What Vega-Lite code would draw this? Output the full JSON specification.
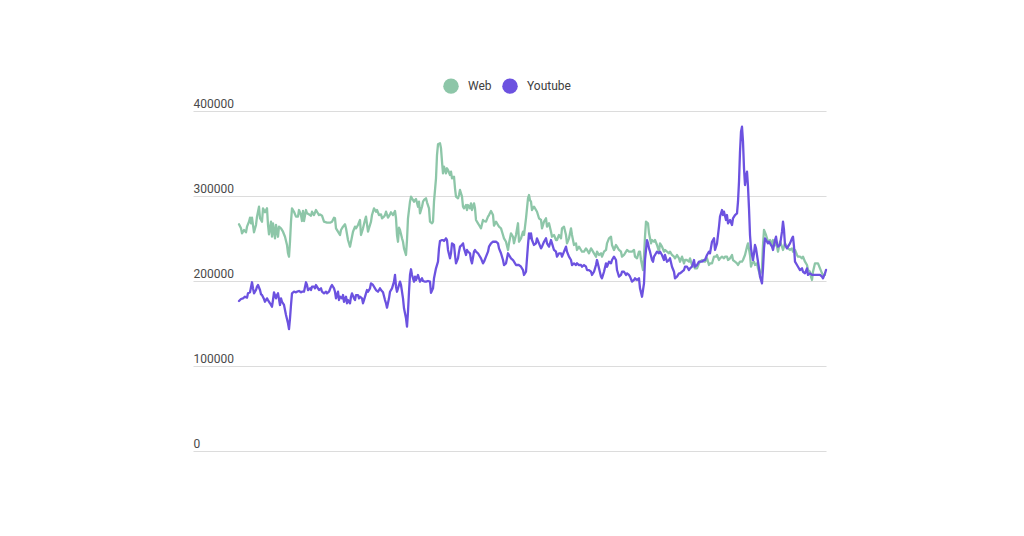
{
"$schema": "https://vega.github.io/schema/vega-lite/v6.json",
"width": 633, "height": 340,
"autosize": {"type": "none"},
"padding": {"left": 193, "top": 111, "right": 198, "bottom": 85},
"background": "white",
"config": {"view": {"stroke": null}, "font": "Roboto"},
"data": {"values": [
{"t":1,"s":"Web","v":266700},{"t":3,"s":"Web","v":262000},{"t":4,"s":"Web","v":256100},{"t":6,"s":"Web","v":260000},{"t":8,"s":"Web","v":257300},{"t":9,"s":"Web","v":263900},{"t":11,"s":"Web","v":269800},{"t":12,"s":"Web","v":274500},{"t":13,"s":"Web","v":267900},{"t":14,"s":"Web","v":274500},{"t":16,"s":"Web","v":257300},{"t":18,"s":"Web","v":265900},{"t":19,"s":"Web","v":275700},{"t":21,"s":"Web","v":287400},{"t":22,"s":"Web","v":273800},{"t":24,"s":"Web","v":269800},{"t":25,"s":"Web","v":285500},{"t":27,"s":"Web","v":280800},{"t":29,"s":"Web","v":285500},{"t":30,"s":"Web","v":265900},{"t":31,"s":"Web","v":254900},{"t":33,"s":"Web","v":269800},{"t":34,"s":"Web","v":252100},{"t":35,"s":"Web","v":267900},{"t":37,"s":"Web","v":250200},{"t":38,"s":"Web","v":265900},{"t":40,"s":"Web","v":252100},{"t":41,"s":"Web","v":263900},{"t":43,"s":"Web","v":262000},{"t":45,"s":"Web","v":258000},{"t":47,"s":"Web","v":252100},{"t":49,"s":"Web","v":242400},{"t":50,"s":"Web","v":232600},{"t":51,"s":"Web","v":228600},{"t":52,"s":"Web","v":246200},{"t":53,"s":"Web","v":269800},{"t":54,"s":"Web","v":285500},{"t":56,"s":"Web","v":281500},{"t":58,"s":"Web","v":275700},{"t":60,"s":"Web","v":275700},{"t":61,"s":"Web","v":283500},{"t":63,"s":"Web","v":277600},{"t":64,"s":"Web","v":270600},{"t":65,"s":"Web","v":282400},{"t":66,"s":"Web","v":270600},{"t":68,"s":"Web","v":283500},{"t":69,"s":"Web","v":279600},{"t":71,"s":"Web","v":278400},{"t":73,"s":"Web","v":276800},{"t":74,"s":"Web","v":281500},{"t":76,"s":"Web","v":277600},{"t":78,"s":"Web","v":283500},{"t":79,"s":"Web","v":281500},{"t":81,"s":"Web","v":277600},{"t":82,"s":"Web","v":278400},{"t":84,"s":"Web","v":276800},{"t":86,"s":"Web","v":269800},{"t":89,"s":"Web","v":268600},{"t":92,"s":"Web","v":268600},{"t":94,"s":"Web","v":269800},{"t":96,"s":"Web","v":274500},
{"t":97,"s":"Web","v":273800},{"t":98,"s":"Web","v":262000},{"t":100,"s":"Web","v":258000},{"t":102,"s":"Web","v":254100},{"t":103,"s":"Web","v":260000},{"t":105,"s":"Web","v":263900},{"t":107,"s":"Web","v":266700},{"t":108,"s":"Web","v":262000},{"t":110,"s":"Web","v":248200},{"t":112,"s":"Web","v":240400},{"t":113,"s":"Web","v":246200},{"t":115,"s":"Web","v":258000},{"t":117,"s":"Web","v":263900},{"t":118,"s":"Web","v":262000},{"t":120,"s":"Web","v":265900},{"t":122,"s":"Web","v":271800},{"t":123,"s":"Web","v":254100},{"t":125,"s":"Web","v":262000},{"t":127,"s":"Web","v":271800},{"t":128,"s":"Web","v":275700},{"t":130,"s":"Web","v":258000},{"t":131,"s":"Web","v":262000},{"t":133,"s":"Web","v":269800},{"t":134,"s":"Web","v":277600},{"t":136,"s":"Web","v":285500},{"t":138,"s":"Web","v":281500},{"t":139,"s":"Web","v":283500},{"t":141,"s":"Web","v":277600},{"t":143,"s":"Web","v":278400},{"t":144,"s":"Web","v":273800},{"t":146,"s":"Web","v":275700},{"t":147,"s":"Web","v":277600},{"t":148,"s":"Web","v":281500},{"t":150,"s":"Web","v":274500},{"t":152,"s":"Web","v":278400},{"t":153,"s":"Web","v":280800},{"t":155,"s":"Web","v":277600},{"t":157,"s":"Web","v":282400},{"t":158,"s":"Web","v":273800},{"t":159,"s":"Web","v":254100},{"t":160,"s":"Web","v":246200},{"t":161,"s":"Web","v":262700},{"t":162,"s":"Web","v":260000},{"t":164,"s":"Web","v":250200},{"t":165,"s":"Web","v":246200},{"t":166,"s":"Web","v":238400},{"t":168,"s":"Web","v":230600},{"t":169,"s":"Web","v":248200},{"t":170,"s":"Web","v":273800},{"t":172,"s":"Web","v":293300},{"t":173,"s":"Web","v":299200},{"t":174,"s":"Web","v":297300},{"t":176,"s":"Web","v":293300},{"t":177,"s":"Web","v":295300},{"t":178,"s":"Web","v":296500},{"t":180,"s":"Web","v":287400},{"t":181,"s":"Web","v":293300},{"t":182,"s":"Web","v":279600},{"t":184,"s":"Web","v":287400},{"t":185,"s":"Web","v":293300},{"t":186,"s":"Web","v":295300},{"t":188,"s":"Web","v":297300},{"t":189,"s":"Web","v":292600},{"t":191,"s":"Web","v":285500},{"t":192,"s":"Web","v":269800},{"t":194,"s":"Web","v":267900},
{"t":195,"s":"Web","v":269800},{"t":196,"s":"Web","v":293300},{"t":198,"s":"Web","v":320800},{"t":199,"s":"Web","v":348200},{"t":200,"s":"Web","v":360800},{"t":202,"s":"Web","v":362000},{"t":203,"s":"Web","v":356100},{"t":204,"s":"Web","v":340400},{"t":205,"s":"Web","v":326700},{"t":206,"s":"Web","v":334500},{"t":208,"s":"Web","v":326700},{"t":209,"s":"Web","v":332600},{"t":210,"s":"Web","v":330600},{"t":212,"s":"Web","v":324700},{"t":213,"s":"Web","v":328600},{"t":214,"s":"Web","v":320800},{"t":216,"s":"Web","v":322700},{"t":217,"s":"Web","v":309100},{"t":218,"s":"Web","v":299200},{"t":220,"s":"Web","v":297300},{"t":221,"s":"Web","v":301200},{"t":222,"s":"Web","v":307100},{"t":224,"s":"Web","v":299200},{"t":225,"s":"Web","v":287400},{"t":226,"s":"Web","v":285500},{"t":228,"s":"Web","v":289400},{"t":229,"s":"Web","v":283500},{"t":230,"s":"Web","v":289400},{"t":232,"s":"Web","v":285500},{"t":233,"s":"Web","v":291400},{"t":234,"s":"Web","v":283500},{"t":236,"s":"Web","v":291400},{"t":237,"s":"Web","v":285500},{"t":238,"s":"Web","v":271800},{"t":240,"s":"Web","v":267900},{"t":241,"s":"Web","v":265900},{"t":243,"s":"Web","v":262000},{"t":245,"s":"Web","v":271800},{"t":246,"s":"Web","v":270600},{"t":248,"s":"Web","v":269800},{"t":250,"s":"Web","v":275700},{"t":251,"s":"Web","v":277600},{"t":253,"s":"Web","v":282400},{"t":255,"s":"Web","v":277600},{"t":256,"s":"Web","v":265100},{"t":258,"s":"Web","v":269800},{"t":260,"s":"Web","v":265900},{"t":261,"s":"Web","v":263900},{"t":263,"s":"Web","v":262000},{"t":265,"s":"Web","v":254100},{"t":266,"s":"Web","v":250200},{"t":268,"s":"Web","v":246200},{"t":270,"s":"Web","v":236500},{"t":271,"s":"Web","v":244300},{"t":273,"s":"Web","v":256100},{"t":275,"s":"Web","v":252100},{"t":276,"s":"Web","v":244300},{"t":278,"s":"Web","v":254100},{"t":280,"s":"Web","v":267900},{"t":281,"s":"Web","v":246200},{"t":283,"s":"Web","v":250200},{"t":285,"s":"Web","v":258000},{"t":286,"s":"Web","v":254100},{"t":288,"s":"Web","v":273800},{"t":290,"s":"Web","v":297300},{"t":291,"s":"Web","v":301200},{"t":292,"s":"Web","v":295000},
{"t":293,"s":"Web","v":293300},{"t":294,"s":"Web","v":283500},{"t":296,"s":"Web","v":287400},{"t":298,"s":"Web","v":283500},{"t":299,"s":"Web","v":281500},{"t":301,"s":"Web","v":273800},{"t":303,"s":"Web","v":271800},{"t":304,"s":"Web","v":262000},{"t":306,"s":"Web","v":269800},{"t":308,"s":"Web","v":273800},{"t":309,"s":"Web","v":263900},{"t":311,"s":"Web","v":267900},{"t":313,"s":"Web","v":258000},{"t":314,"s":"Web","v":252100},{"t":316,"s":"Web","v":254100},{"t":318,"s":"Web","v":248200},{"t":319,"s":"Web","v":248200},{"t":321,"s":"Web","v":254100},{"t":323,"s":"Web","v":250200},{"t":324,"s":"Web","v":262000},{"t":326,"s":"Web","v":263900},{"t":328,"s":"Web","v":254100},{"t":329,"s":"Web","v":244300},{"t":331,"s":"Web","v":250200},{"t":333,"s":"Web","v":262000},{"t":334,"s":"Web","v":254100},{"t":336,"s":"Web","v":242400},{"t":338,"s":"Web","v":244300},{"t":339,"s":"Web","v":236500},{"t":341,"s":"Web","v":240400},{"t":343,"s":"Web","v":236500},{"t":344,"s":"Web","v":234500},{"t":346,"s":"Web","v":234500},{"t":348,"s":"Web","v":238400},{"t":349,"s":"Web","v":236500},{"t":351,"s":"Web","v":232600},{"t":353,"s":"Web","v":238400},{"t":354,"s":"Web","v":236500},{"t":356,"s":"Web","v":232600},{"t":358,"s":"Web","v":228600},{"t":359,"s":"Web","v":234500},{"t":361,"s":"Web","v":230600},{"t":363,"s":"Web","v":232600},{"t":364,"s":"Web","v":228600},{"t":366,"s":"Web","v":234500},{"t":368,"s":"Web","v":236500},{"t":369,"s":"Web","v":244300},{"t":371,"s":"Web","v":250200},{"t":373,"s":"Web","v":252100},{"t":374,"s":"Web","v":242400},{"t":376,"s":"Web","v":236500},{"t":378,"s":"Web","v":242400},{"t":379,"s":"Web","v":240400},{"t":381,"s":"Web","v":236500},{"t":383,"s":"Web","v":234500},{"t":384,"s":"Web","v":228600},{"t":386,"s":"Web","v":230600},{"t":388,"s":"Web","v":234500},{"t":389,"s":"Web","v":236500},
{"t":391,"s":"Web","v":234500},{"t":392,"s":"Web","v":234500},{"t":394,"s":"Web","v":234500},{"t":396,"s":"Web","v":236500},{"t":397,"s":"Web","v":228600},{"t":399,"s":"Web","v":226700},{"t":401,"s":"Web","v":234500},{"t":402,"s":"Web","v":234500},{"t":403,"s":"Web","v":224700},{"t":405,"s":"Web","v":212900},{"t":406,"s":"Web","v":228600},{"t":407,"s":"Web","v":252100},{"t":408,"s":"Web","v":269800},{"t":410,"s":"Web","v":267900},{"t":411,"s":"Web","v":256100},{"t":412,"s":"Web","v":250200},{"t":413,"s":"Web","v":244300},{"t":414,"s":"Web","v":248200},{"t":416,"s":"Web","v":246200},{"t":417,"s":"Web","v":248200},{"t":419,"s":"Web","v":242400},{"t":421,"s":"Web","v":234500},{"t":422,"s":"Web","v":244300},{"t":424,"s":"Web","v":240400},{"t":426,"s":"Web","v":234500},{"t":427,"s":"Web","v":236500},{"t":429,"s":"Web","v":234500},{"t":431,"s":"Web","v":232600},{"t":432,"s":"Web","v":234500},{"t":434,"s":"Web","v":230600},{"t":436,"s":"Web","v":228600},{"t":437,"s":"Web","v":226700},{"t":439,"s":"Web","v":230600},{"t":441,"s":"Web","v":226700},{"t":442,"s":"Web","v":222700},{"t":444,"s":"Web","v":228600},{"t":446,"s":"Web","v":220800},{"t":447,"s":"Web","v":224700},{"t":449,"s":"Web","v":224700},{"t":451,"s":"Web","v":222700},{"t":452,"s":"Web","v":226700},{"t":454,"s":"Web","v":218800},{"t":456,"s":"Web","v":216800},{"t":457,"s":"Web","v":214900},{"t":459,"s":"Web","v":214900},{"t":461,"s":"Web","v":220800},{"t":462,"s":"Web","v":222700},{"t":464,"s":"Web","v":224700},{"t":466,"s":"Web","v":222700},{"t":467,"s":"Web","v":222700},{"t":469,"s":"Web","v":226700},{"t":471,"s":"Web","v":218800},{"t":472,"s":"Web","v":220800},{"t":474,"s":"Web","v":220800},{"t":475,"s":"Web","v":224700},{"t":476,"s":"Web","v":228600},{"t":478,"s":"Web","v":228600},{"t":479,"s":"Web","v":230600},{"t":481,"s":"Web","v":224700},{"t":482,"s":"Web","v":226700},{"t":484,"s":"Web","v":228600},{"t":486,"s":"Web","v":226700},{"t":487,"s":"Web","v":228600},
{"t":489,"s":"Web","v":228600},{"t":490,"s":"Web","v":224700},{"t":492,"s":"Web","v":226700},{"t":494,"s":"Web","v":230600},{"t":495,"s":"Web","v":224700},{"t":497,"s":"Web","v":222700},{"t":499,"s":"Web","v":220800},{"t":500,"s":"Web","v":218800},{"t":502,"s":"Web","v":222700},{"t":504,"s":"Web","v":222700},{"t":505,"s":"Web","v":224700},{"t":507,"s":"Web","v":230600},{"t":509,"s":"Web","v":240400},{"t":510,"s":"Web","v":244300},{"t":512,"s":"Web","v":230600},{"t":513,"s":"Web","v":216800},{"t":514,"s":"Web","v":220800},{"t":516,"s":"Web","v":222700},{"t":517,"s":"Web","v":218800},{"t":519,"s":"Web","v":220800},{"t":520,"s":"Web","v":214900},{"t":522,"s":"Web","v":207100},{"t":524,"s":"Web","v":214900},{"t":525,"s":"Web","v":242400},{"t":526,"s":"Web","v":260000},{"t":528,"s":"Web","v":254100},{"t":529,"s":"Web","v":250200},{"t":530,"s":"Web","v":246200},{"t":532,"s":"Web","v":248200},{"t":534,"s":"Web","v":242400},{"t":535,"s":"Web","v":248200},{"t":537,"s":"Web","v":244300},{"t":539,"s":"Web","v":240400},{"t":540,"s":"Web","v":234500},{"t":542,"s":"Web","v":246200},{"t":544,"s":"Web","v":240400},{"t":545,"s":"Web","v":236500},{"t":547,"s":"Web","v":244300},{"t":549,"s":"Web","v":240400},{"t":550,"s":"Web","v":238400},{"t":552,"s":"Web","v":236500},{"t":554,"s":"Web","v":238400},{"t":555,"s":"Web","v":234500},{"t":557,"s":"Web","v":236500},{"t":559,"s":"Web","v":230600},{"t":560,"s":"Web","v":228600},{"t":562,"s":"Web","v":228600},{"t":564,"s":"Web","v":226700},{"t":565,"s":"Web","v":228600},{"t":567,"s":"Web","v":222700},{"t":569,"s":"Web","v":218800},{"t":570,"s":"Web","v":212900},{"t":572,"s":"Web","v":210900},{"t":573,"s":"Web","v":205100},{"t":574,"s":"Web","v":201200},{"t":575,"s":"Web","v":210900},{"t":577,"s":"Web","v":220800},{"t":579,"s":"Web","v":220800},{"t":580,"s":"Web","v":220800},{"t":582,"s":"Web","v":214900},{"t":584,"s":"Web","v":209000},{"t":585,"s":"Web","v":207100},{"t":587,"s":"Web","v":207100},
{"t":1,"s":"Youtube","v":176500},{"t":3,"s":"Youtube","v":178800},{"t":5,"s":"Youtube","v":179600},{"t":7,"s":"Youtube","v":181500},{"t":9,"s":"Youtube","v":180400},{"t":10,"s":"Youtube","v":185500},{"t":12,"s":"Youtube","v":186700},{"t":14,"s":"Youtube","v":198500},{"t":15,"s":"Youtube","v":191400},{"t":16,"s":"Youtube","v":185500},{"t":18,"s":"Youtube","v":189400},{"t":19,"s":"Youtube","v":193300},{"t":20,"s":"Youtube","v":195300},{"t":22,"s":"Youtube","v":189400},{"t":23,"s":"Youtube","v":184300},{"t":24,"s":"Youtube","v":183500},{"t":26,"s":"Youtube","v":178800},{"t":27,"s":"Youtube","v":175600},{"t":29,"s":"Youtube","v":179600},{"t":30,"s":"Youtube","v":177600},{"t":32,"s":"Youtube","v":173800},{"t":34,"s":"Youtube","v":169800},{"t":35,"s":"Youtube","v":177600},{"t":36,"s":"Youtube","v":186700},{"t":38,"s":"Youtube","v":179600},{"t":39,"s":"Youtube","v":183500},{"t":40,"s":"Youtube","v":185500},{"t":42,"s":"Youtube","v":171800},{"t":43,"s":"Youtube","v":179600},{"t":44,"s":"Youtube","v":175600},{"t":46,"s":"Youtube","v":171800},{"t":47,"s":"Youtube","v":165900},{"t":48,"s":"Youtube","v":160000},{"t":50,"s":"Youtube","v":150200},{"t":51,"s":"Youtube","v":143500},{"t":52,"s":"Youtube","v":156100},{"t":53,"s":"Youtube","v":171800},{"t":54,"s":"Youtube","v":185500},{"t":56,"s":"Youtube","v":187400},{"t":58,"s":"Youtube","v":186700},{"t":59,"s":"Youtube","v":187400},{"t":61,"s":"Youtube","v":188200},{"t":63,"s":"Youtube","v":186700},{"t":64,"s":"Youtube","v":187400},{"t":66,"s":"Youtube","v":187400},{"t":68,"s":"Youtube","v":198500},{"t":69,"s":"Youtube","v":195300},{"t":70,"s":"Youtube","v":189400},{"t":72,"s":"Youtube","v":191400},{"t":73,"s":"Youtube","v":189400},{"t":74,"s":"Youtube","v":193300},{"t":76,"s":"Youtube","v":193300},{"t":77,"s":"Youtube","v":191400},{"t":78,"s":"Youtube","v":195300},{"t":80,"s":"Youtube","v":191400},{"t":81,"s":"Youtube","v":189400},{"t":83,"s":"Youtube","v":191400},{"t":84,"s":"Youtube","v":187400},{"t":86,"s":"Youtube","v":185500},{"t":88,"s":"Youtube","v":187400},{"t":89,"s":"Youtube","v":185500},{"t":91,"s":"Youtube","v":187400},{"t":93,"s":"Youtube","v":193300},{"t":94,"s":"Youtube","v":195300},{"t":96,"s":"Youtube","v":191400},
{"t":97,"s":"Youtube","v":187400},{"t":98,"s":"Youtube","v":179600},{"t":100,"s":"Youtube","v":187400},{"t":101,"s":"Youtube","v":177600},{"t":102,"s":"Youtube","v":181500},{"t":104,"s":"Youtube","v":179600},{"t":105,"s":"Youtube","v":183500},{"t":106,"s":"Youtube","v":175600},{"t":108,"s":"Youtube","v":181500},{"t":109,"s":"Youtube","v":173800},{"t":110,"s":"Youtube","v":177600},{"t":112,"s":"Youtube","v":173800},{"t":113,"s":"Youtube","v":181500},{"t":114,"s":"Youtube","v":185500},{"t":116,"s":"Youtube","v":179600},{"t":117,"s":"Youtube","v":177600},{"t":118,"s":"Youtube","v":183500},{"t":120,"s":"Youtube","v":183500},{"t":121,"s":"Youtube","v":179600},{"t":122,"s":"Youtube","v":181500},{"t":124,"s":"Youtube","v":179600},{"t":125,"s":"Youtube","v":173800},{"t":126,"s":"Youtube","v":177600},{"t":128,"s":"Youtube","v":185500},{"t":129,"s":"Youtube","v":189400},{"t":130,"s":"Youtube","v":187400},{"t":132,"s":"Youtube","v":191400},{"t":133,"s":"Youtube","v":197300},{"t":135,"s":"Youtube","v":195300},{"t":137,"s":"Youtube","v":191400},{"t":138,"s":"Youtube","v":189400},{"t":140,"s":"Youtube","v":187400},{"t":142,"s":"Youtube","v":191400},{"t":143,"s":"Youtube","v":189400},{"t":145,"s":"Youtube","v":186700},{"t":147,"s":"Youtube","v":177600},{"t":148,"s":"Youtube","v":173800},{"t":149,"s":"Youtube","v":168600},{"t":151,"s":"Youtube","v":179600},{"t":152,"s":"Youtube","v":187400},{"t":154,"s":"Youtube","v":191400},{"t":156,"s":"Youtube","v":199200},{"t":157,"s":"Youtube","v":207100},{"t":158,"s":"Youtube","v":193300},{"t":159,"s":"Youtube","v":187400},{"t":160,"s":"Youtube","v":191400},{"t":162,"s":"Youtube","v":199200},{"t":163,"s":"Youtube","v":195300},{"t":165,"s":"Youtube","v":179600},{"t":166,"s":"Youtube","v":167900},{"t":168,"s":"Youtube","v":156100},{"t":169,"s":"Youtube","v":146300},{"t":170,"s":"Youtube","v":163900},{"t":171,"s":"Youtube","v":187400},{"t":172,"s":"Youtube","v":207100},{"t":173,"s":"Youtube","v":213800},{"t":174,"s":"Youtube","v":207100},{"t":176,"s":"Youtube","v":199200},{"t":177,"s":"Youtube","v":205100},{"t":178,"s":"Youtube","v":201200},{"t":180,"s":"Youtube","v":207100},{"t":181,"s":"Youtube","v":203200},{"t":182,"s":"Youtube","v":199200},{"t":184,"s":"Youtube","v":203200},{"t":185,"s":"Youtube","v":200000},{"t":187,"s":"Youtube","v":199200},{"t":188,"s":"Youtube","v":199200},{"t":190,"s":"Youtube","v":200000},{"t":192,"s":"Youtube","v":199200},{"t":193,"s":"Youtube","v":186000},
{"t":195,"s":"Youtube","v":191400},{"t":196,"s":"Youtube","v":203200},{"t":198,"s":"Youtube","v":214900},{"t":200,"s":"Youtube","v":222700},{"t":201,"s":"Youtube","v":238400},{"t":202,"s":"Youtube","v":247100},{"t":204,"s":"Youtube","v":248200},{"t":205,"s":"Youtube","v":248200},{"t":206,"s":"Youtube","v":247100},{"t":208,"s":"Youtube","v":250200},{"t":209,"s":"Youtube","v":248200},{"t":210,"s":"Youtube","v":236500},{"t":212,"s":"Youtube","v":226700},{"t":213,"s":"Youtube","v":232600},{"t":214,"s":"Youtube","v":244300},{"t":216,"s":"Youtube","v":242400},{"t":217,"s":"Youtube","v":230600},{"t":218,"s":"Youtube","v":220800},{"t":220,"s":"Youtube","v":226700},{"t":221,"s":"Youtube","v":234500},{"t":222,"s":"Youtube","v":240400},{"t":224,"s":"Youtube","v":242400},{"t":225,"s":"Youtube","v":244300},{"t":226,"s":"Youtube","v":238400},{"t":228,"s":"Youtube","v":230600},{"t":229,"s":"Youtube","v":236500},{"t":230,"s":"Youtube","v":234500},{"t":232,"s":"Youtube","v":232600},{"t":233,"s":"Youtube","v":224700},{"t":234,"s":"Youtube","v":220800},{"t":236,"s":"Youtube","v":234500},{"t":237,"s":"Youtube","v":236500},{"t":238,"s":"Youtube","v":234500},{"t":240,"s":"Youtube","v":232600},{"t":241,"s":"Youtube","v":230600},{"t":243,"s":"Youtube","v":226700},{"t":245,"s":"Youtube","v":220800},{"t":246,"s":"Youtube","v":222700},{"t":248,"s":"Youtube","v":228600},{"t":250,"s":"Youtube","v":234500},{"t":251,"s":"Youtube","v":240400},{"t":253,"s":"Youtube","v":244300},{"t":255,"s":"Youtube","v":246200},{"t":256,"s":"Youtube","v":246200},{"t":258,"s":"Youtube","v":246200},{"t":260,"s":"Youtube","v":244300},{"t":261,"s":"Youtube","v":238400},{"t":263,"s":"Youtube","v":232600},{"t":265,"s":"Youtube","v":224700},{"t":266,"s":"Youtube","v":218800},{"t":268,"s":"Youtube","v":220800},{"t":270,"s":"Youtube","v":232600},{"t":271,"s":"Youtube","v":230600},{"t":273,"s":"Youtube","v":226700},{"t":275,"s":"Youtube","v":224700},{"t":276,"s":"Youtube","v":222700},{"t":278,"s":"Youtube","v":218800},{"t":280,"s":"Youtube","v":218800},{"t":281,"s":"Youtube","v":218800},{"t":283,"s":"Youtube","v":216800},{"t":285,"s":"Youtube","v":212900},{"t":286,"s":"Youtube","v":207100},{"t":288,"s":"Youtube","v":210900},{"t":290,"s":"Youtube","v":242400},{"t":291,"s":"Youtube","v":256100},{"t":292,"s":"Youtube","v":250200},
{"t":293,"s":"Youtube","v":256100},{"t":294,"s":"Youtube","v":248200},{"t":296,"s":"Youtube","v":242400},{"t":298,"s":"Youtube","v":244300},{"t":299,"s":"Youtube","v":250200},{"t":301,"s":"Youtube","v":244300},{"t":303,"s":"Youtube","v":238400},{"t":304,"s":"Youtube","v":240400},{"t":306,"s":"Youtube","v":246200},{"t":308,"s":"Youtube","v":250200},{"t":309,"s":"Youtube","v":244300},{"t":311,"s":"Youtube","v":240400},{"t":313,"s":"Youtube","v":248200},{"t":314,"s":"Youtube","v":244300},{"t":316,"s":"Youtube","v":236500},{"t":318,"s":"Youtube","v":234500},{"t":319,"s":"Youtube","v":228600},{"t":321,"s":"Youtube","v":232600},{"t":323,"s":"Youtube","v":232600},{"t":324,"s":"Youtube","v":228600},{"t":326,"s":"Youtube","v":234500},{"t":328,"s":"Youtube","v":240400},{"t":329,"s":"Youtube","v":234500},{"t":331,"s":"Youtube","v":228600},{"t":333,"s":"Youtube","v":224700},{"t":334,"s":"Youtube","v":218800},{"t":336,"s":"Youtube","v":220800},{"t":338,"s":"Youtube","v":218800},{"t":339,"s":"Youtube","v":220800},{"t":341,"s":"Youtube","v":218800},{"t":343,"s":"Youtube","v":218800},{"t":344,"s":"Youtube","v":216800},{"t":346,"s":"Youtube","v":218800},{"t":348,"s":"Youtube","v":216800},{"t":349,"s":"Youtube","v":212900},{"t":351,"s":"Youtube","v":212900},{"t":353,"s":"Youtube","v":210900},{"t":354,"s":"Youtube","v":207100},{"t":356,"s":"Youtube","v":210900},{"t":358,"s":"Youtube","v":218800},{"t":359,"s":"Youtube","v":224700},{"t":361,"s":"Youtube","v":214900},{"t":363,"s":"Youtube","v":205100},{"t":364,"s":"Youtube","v":203200},{"t":366,"s":"Youtube","v":210900},{"t":368,"s":"Youtube","v":220800},{"t":369,"s":"Youtube","v":216800},{"t":371,"s":"Youtube","v":222700},{"t":373,"s":"Youtube","v":220800},{"t":374,"s":"Youtube","v":224700},{"t":376,"s":"Youtube","v":228600},{"t":378,"s":"Youtube","v":224700},{"t":379,"s":"Youtube","v":212900},{"t":381,"s":"Youtube","v":205100},{"t":383,"s":"Youtube","v":207100},{"t":384,"s":"Youtube","v":210900},{"t":386,"s":"Youtube","v":210900},{"t":388,"s":"Youtube","v":207100},{"t":389,"s":"Youtube","v":209000},
{"t":391,"s":"Youtube","v":207100},{"t":392,"s":"Youtube","v":205100},{"t":394,"s":"Youtube","v":199200},{"t":396,"s":"Youtube","v":201200},{"t":397,"s":"Youtube","v":203200},{"t":399,"s":"Youtube","v":201200},{"t":401,"s":"Youtube","v":203200},{"t":402,"s":"Youtube","v":191400},{"t":404,"s":"Youtube","v":181500},{"t":406,"s":"Youtube","v":197300},{"t":407,"s":"Youtube","v":224700},{"t":409,"s":"Youtube","v":248200},{"t":410,"s":"Youtube","v":244300},{"t":411,"s":"Youtube","v":238400},{"t":412,"s":"Youtube","v":234500},{"t":414,"s":"Youtube","v":224700},{"t":415,"s":"Youtube","v":222700},{"t":416,"s":"Youtube","v":228600},{"t":418,"s":"Youtube","v":232600},{"t":419,"s":"Youtube","v":234500},{"t":421,"s":"Youtube","v":232600},{"t":422,"s":"Youtube","v":234500},{"t":424,"s":"Youtube","v":230600},{"t":426,"s":"Youtube","v":224700},{"t":427,"s":"Youtube","v":230600},{"t":429,"s":"Youtube","v":222700},{"t":431,"s":"Youtube","v":224700},{"t":432,"s":"Youtube","v":226700},{"t":434,"s":"Youtube","v":216800},{"t":436,"s":"Youtube","v":210900},{"t":437,"s":"Youtube","v":203200},{"t":439,"s":"Youtube","v":205100},{"t":441,"s":"Youtube","v":209000},{"t":442,"s":"Youtube","v":209000},{"t":444,"s":"Youtube","v":210900},{"t":446,"s":"Youtube","v":212900},{"t":447,"s":"Youtube","v":216800},{"t":449,"s":"Youtube","v":216800},{"t":451,"s":"Youtube","v":212900},{"t":452,"s":"Youtube","v":214900},{"t":454,"s":"Youtube","v":216800},{"t":456,"s":"Youtube","v":224700},{"t":457,"s":"Youtube","v":216800},{"t":459,"s":"Youtube","v":218800},{"t":461,"s":"Youtube","v":222700},{"t":462,"s":"Youtube","v":222700},{"t":464,"s":"Youtube","v":222700},{"t":466,"s":"Youtube","v":224700},{"t":467,"s":"Youtube","v":224700},{"t":469,"s":"Youtube","v":230600},{"t":471,"s":"Youtube","v":234500},{"t":472,"s":"Youtube","v":232600},{"t":474,"s":"Youtube","v":246200},{"t":476,"s":"Youtube","v":250200},{"t":477,"s":"Youtube","v":236500},{"t":479,"s":"Youtube","v":244300},{"t":481,"s":"Youtube","v":263900},{"t":482,"s":"Youtube","v":275700},{"t":484,"s":"Youtube","v":283500},{"t":485,"s":"Youtube","v":277600},{"t":486,"s":"Youtube","v":281500},{"t":488,"s":"Youtube","v":271800},
{"t":489,"s":"Youtube","v":277600},{"t":490,"s":"Youtube","v":267900},{"t":492,"s":"Youtube","v":271800},{"t":494,"s":"Youtube","v":265900},{"t":495,"s":"Youtube","v":273800},{"t":497,"s":"Youtube","v":277600},{"t":499,"s":"Youtube","v":279600},{"t":500,"s":"Youtube","v":293300},{"t":501,"s":"Youtube","v":316800},{"t":502,"s":"Youtube","v":352100},{"t":503,"s":"Youtube","v":375600},{"t":504,"s":"Youtube","v":381500},{"t":505,"s":"Youtube","v":363900},{"t":506,"s":"Youtube","v":332600},{"t":507,"s":"Youtube","v":312900},{"t":508,"s":"Youtube","v":322700},{"t":509,"s":"Youtube","v":328600},{"t":510,"s":"Youtube","v":311000},{"t":511,"s":"Youtube","v":285500},{"t":512,"s":"Youtube","v":254100},{"t":513,"s":"Youtube","v":238400},{"t":514,"s":"Youtube","v":230600},{"t":515,"s":"Youtube","v":224700},{"t":516,"s":"Youtube","v":232600},{"t":517,"s":"Youtube","v":242400},{"t":518,"s":"Youtube","v":238400},{"t":520,"s":"Youtube","v":222700},{"t":521,"s":"Youtube","v":214900},{"t":522,"s":"Youtube","v":205100},{"t":524,"s":"Youtube","v":197300},{"t":525,"s":"Youtube","v":214900},{"t":526,"s":"Youtube","v":238400},{"t":527,"s":"Youtube","v":250200},{"t":528,"s":"Youtube","v":248200},{"t":530,"s":"Youtube","v":244300},{"t":531,"s":"Youtube","v":246200},{"t":532,"s":"Youtube","v":244300},{"t":534,"s":"Youtube","v":240400},{"t":535,"s":"Youtube","v":236500},{"t":537,"s":"Youtube","v":248200},{"t":538,"s":"Youtube","v":252100},{"t":539,"s":"Youtube","v":244300},{"t":540,"s":"Youtube","v":240400},{"t":542,"s":"Youtube","v":242400},{"t":544,"s":"Youtube","v":258000},{"t":545,"s":"Youtube","v":269800},{"t":546,"s":"Youtube","v":260000},{"t":547,"s":"Youtube","v":242400},{"t":549,"s":"Youtube","v":238400},{"t":550,"s":"Youtube","v":240400},{"t":552,"s":"Youtube","v":244300},{"t":554,"s":"Youtube","v":250200},{"t":555,"s":"Youtube","v":252100},{"t":556,"s":"Youtube","v":240400},{"t":557,"s":"Youtube","v":222700},{"t":559,"s":"Youtube","v":218800},{"t":560,"s":"Youtube","v":216800},{"t":562,"s":"Youtube","v":212900},{"t":564,"s":"Youtube","v":214900},{"t":565,"s":"Youtube","v":210900},{"t":567,"s":"Youtube","v":209000},{"t":569,"s":"Youtube","v":214900},{"t":570,"s":"Youtube","v":207100},{"t":572,"s":"Youtube","v":209000},{"t":574,"s":"Youtube","v":207100},{"t":575,"s":"Youtube","v":207100},{"t":577,"s":"Youtube","v":207100},{"t":579,"s":"Youtube","v":207100},{"t":580,"s":"Youtube","v":207100},{"t":582,"s":"Youtube","v":207100},{"t":584,"s":"Youtube","v":205100},{"t":585,"s":"Youtube","v":203200},{"t":587,"s":"Youtube","v":209000},{"t":588,"s":"Youtube","v":213000}
]},
"mark": {"type": "line", "strokeWidth": 2.3, "interpolate": "linear", "strokeJoin": "round", "strokeCap": "round"},
"encoding": {
  "x": {"field": "t", "type": "quantitative", "scale": {"domain": [-45, 588], "nice": false, "zero": false}, "axis": null},
  "y": {"field": "v", "type": "quantitative", "scale": {"domain": [0, 400000], "nice": false},
        "axis": {"values": [0, 100000, 200000, 300000, 400000], "format": "d", "title": null, "domain": false, "ticks": false,
                 "labelAlign": "left", "labelBaseline": "alphabetic", "labelPadding": 0, "labelOffset": -4,
                 "labelFontSize": 12, "labelColor": "#4a4a4a", "labelFont": "Roboto",
                 "gridColor": "#dcdcdc", "gridWidth": 1.2}},
  "color": {"field": "s", "type": "nominal",
            "scale": {"domain": ["Web", "Youtube"], "range": ["#8DC6A8", "#6C52E0"]},
            "legend": {"title": null, "orient": "none", "direction": "horizontal", "legendX": 250, "legendY": -33,
                       "symbolType": "circle", "symbolSize": 240, "symbolStrokeWidth": 0,
                       "labelFontSize": 12, "labelColor": "#404040", "labelFont": "Roboto",
                       "columnPadding": 10, "labelOffset": 9,
                       "encode": {"symbols": {"update": {"fill": {"scale": "color", "field": "value"}, "fillOpacity": {"value": 1}, "strokeWidth": {"value": 0}}}}}}
}
}
